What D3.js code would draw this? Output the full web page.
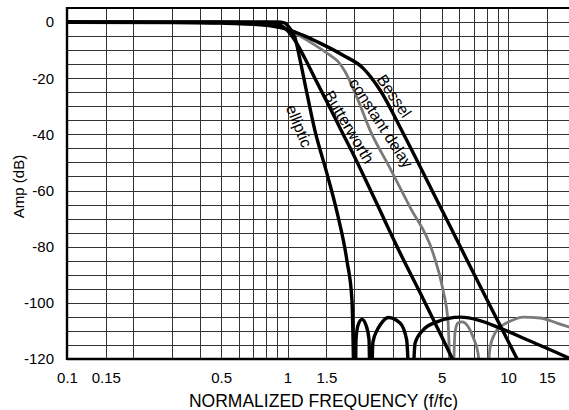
<!DOCTYPE html>
<html>
<head>
<meta charset="utf-8">
<script src="https://cdn.jsdelivr.net/npm/d3@7"></script>
<style>
  html, body { margin: 0; padding: 0; background: #fff; }
  svg { display: block; font-family: "Liberation Sans", Arial, Helvetica, sans-serif; }
</style>
</head>
<body>
<svg id="chart" width="569" height="410"></svg>
<script>
// Amplitude response (dB) of four 8-pole low-pass filter types
// against normalized frequency f/fc.

const butterworthFreq = [0.1, 0.5, 0.8, 0.9, 1.0, 1.1, 1.2, 1.35, 1.5, 1.75, 2.0, 2.5, 3.3, 4.0, 5.0, 5.6, 6.0];
const butterworthDb   = [0, 0, -0.1, -0.7, -3, -7.5, -13, -21, -28, -38.5, -47.5, -63.5, -83.5, -96.5, -112, -120, -124.5];

const besselFreq = [0.1, 0.3, 0.5, 0.7, 0.85, 1.0, 1.2, 1.404, 1.785, 2.2, 2.627, 3.34, 4.5, 6.52, 8.5, 11, 12];
const besselDb   = [-0.1, -0.2, -0.4, -0.8, -1.4, -2.6, -5, -7.5, -11.8, -16.4, -24.2, -39.5, -59.6, -84.8, -102.7, -120, -126];

const constantDelayFreq = [0.1, 0.3, 0.5, 0.7, 0.85, 1.0, 1.139, 1.332, 1.558, 1.7, 1.823, 2.088, 2.366, 2.916, 3.594, 4.571, 5.072, 5.345,
                           5.57, 5.75, 5.93, 6.2, 6.94, 7.31, 7.8,
                           8.29, 8.73, 9.49, 10.54, 11.7, 13.97, 16.68, 18.9, 20];
const constantDelayDb   = [-0.1, -0.2, -0.4, -0.8, -1.4, -2.7, -5.0, -8.2, -11.8, -14.2, -17.6, -27.8, -38.5, -52, -65.9, -82.3, -95.4, -106.8,
                           -140, -110.4, -107.2, -106.8, -112.2, -117.9, -140,
                           -116, -110.8, -107.9, -106.1, -105.1, -105.4, -107.2, -108.6, -109.3];

const ellipticFreq = [0.1, 0.5, 0.9, 0.97, 1.0, 1.04, 1.08, 1.14, 1.2, 1.33, 1.51, 1.68, 1.86, 1.96,
                      2.025, 2.045, 2.088, 2.177, 2.27, 2.342,
                      2.378, 2.44, 2.54, 2.63, 2.865, 3.24, 3.47,
                      3.63, 3.79, 4.12, 4.76, 6.06, 7.46, 9.2, 12.58, 18.9, 20];
const ellipticDb   = [0, -0.1, 0, -0.3, -1.2, -3, -5.5, -13.5, -22, -38.5, -54, -68, -85, -99,
                      -140, -113, -108, -105.9, -108, -113,
                      -140, -114, -110, -107.9, -105.2, -107.2, -113.2,
                      -140, -114.3, -109.7, -106.8, -105.1, -106.3, -109, -113.6, -119.7, -120.6];

const xLabelTicks = [0.1, 0.15, 0.5, 1, 1.5, 5, 10, 15];
const xLabelText  = ["0.1", "0.15", "0.5", "1", "1.5", "5", "10", "15"];
const yLabelTicks = [0, -20, -40, -60, -80, -100, -120];
const xGridValues = [0.1, 0.15, 0.2, 0.3, 0.4, 0.5, 0.6, 0.7, 0.8, 0.9,
                     1, 1.5, 2, 3, 4, 5, 6, 7, 8, 9, 10, 15, 20];
const yGridValues = [-120, -115, -110, -105, -100, -95, -90, -85, -80, -75, -70, -65, -60,
                     -55, -50, -45, -40, -35, -30, -25, -20, -15, -10, -5, 0, 5];

const plotLeft = 67, plotRight = 574.4, plotTop = 8, plotBottom = 359;

const svg = d3.select("#chart");
const x = d3.scaleLog().domain([0.1, 20]).range([plotLeft, plotRight]);
const y = d3.scaleLinear().domain([-120, 5]).range([plotBottom, plotTop]);

// grid
const gx = svg.append("g")
  .attr("transform", `translate(0,${plotBottom})`)
  .call(d3.axisBottom(x).tickValues(xGridValues).tickSize(-(plotBottom - plotTop)).tickFormat(""));
const gy = svg.append("g")
  .attr("transform", `translate(${plotLeft},0)`)
  .call(d3.axisLeft(y).tickValues(yGridValues).tickSize(-(plotRight - plotLeft)).tickFormat(""));
[gx, gy].forEach(g => {
  g.select(".domain").remove();
  g.selectAll("line").attr("stroke", "#333").attr("stroke-width", 1)
    .attr("shape-rendering", "crispEdges");
});

// clip curves to plotting area
svg.append("defs").append("clipPath").attr("id", "plotClip")
  .append("rect").attr("x", plotLeft).attr("y", plotTop)
  .attr("width", plotRight - plotLeft).attr("height", plotBottom - plotTop);

const line = d3.line()
  .x(d => x(d[0]))
  .y(d => y(d[1]))
  .curve(d3.curveMonotoneX);

const curves = svg.append("g").attr("clip-path", "url(#plotClip)");

curves.append("path")
  .datum(d3.zip(constantDelayFreq, constantDelayDb))
  .attr("d", line)
  .attr("fill", "none")
  .attr("stroke", "#7a7a7a")
  .attr("stroke-width", 2.8);

[[butterworthFreq, butterworthDb], [besselFreq, besselDb], [ellipticFreq, ellipticDb]].forEach(([f, db]) => {
  curves.append("path")
    .datum(d3.zip(f, db))
    .attr("d", line)
    .attr("fill", "none")
    .attr("stroke", "#000")
    .attr("stroke-width", 3.4)
    .attr("stroke-linejoin", "round");
});

// frame
svg.append("line").attr("x1", plotLeft).attr("x2", plotLeft).attr("y1", plotTop - 1).attr("y2", plotBottom + 1)
  .attr("stroke", "#000").attr("stroke-width", 2.4);
svg.append("line").attr("x1", plotLeft).attr("x2", plotRight).attr("y1", plotBottom).attr("y2", plotBottom)
  .attr("stroke", "#000").attr("stroke-width", 2.4);
svg.append("line").attr("x1", plotLeft).attr("x2", plotRight).attr("y1", plotTop).attr("y2", plotTop)
  .attr("stroke", "#000").attr("stroke-width", 2);

// tick labels
const ax = svg.append("g")
  .attr("transform", `translate(0,${plotBottom})`)
  .call(d3.axisBottom(x).tickValues(xLabelTicks)
    .tickFormat((d, i) => xLabelText[i]).tickSize(0).tickPadding(13.4));
const ay = svg.append("g")
  .attr("transform", `translate(${plotLeft},0)`)
  .call(d3.axisLeft(y).tickValues(yLabelTicks)
    .tickFormat(d => String(d)).tickSize(0).tickPadding(13));
[ax, ay].forEach(g => {
  g.select(".domain").remove();
  g.selectAll("text").attr("fill", "#000").attr("font-size", 15)
    .attr("font-family", "'Liberation Sans', Arial, Helvetica, sans-serif");
});

// axis titles
svg.append("text")
  .attr("x", 323.5).attr("y", 407)
  .attr("text-anchor", "middle")
  .attr("font-size", 17.5)
  .text("NORMALIZED FREQUENCY (f/fc)");
svg.append("text")
  .attr("transform", "translate(24,186.5) rotate(-90)")
  .attr("text-anchor", "middle")
  .attr("font-size", 15)
  .text("Amp (dB)");

// curve names
const curveNames = [
  { text: "Bessel",         cx: 394, cy: 96,  angle: 56 },
  { text: "constant delay", cx: 381, cy: 123, angle: 57 },
  { text: "Butterworth",    cx: 349, cy: 127, angle: 59 },
  { text: "elliptic",       cx: 299, cy: 126, angle: 68 }
];
svg.append("g").selectAll("text")
  .data(curveNames)
  .join("text")
  .attr("transform", d => `translate(${d.cx},${d.cy}) rotate(${d.angle})`)
  .attr("text-anchor", "middle")
  .attr("dominant-baseline", "central")
  .attr("font-size", 16)
  .text(d => d.text);
</script>
</body>
</html>
